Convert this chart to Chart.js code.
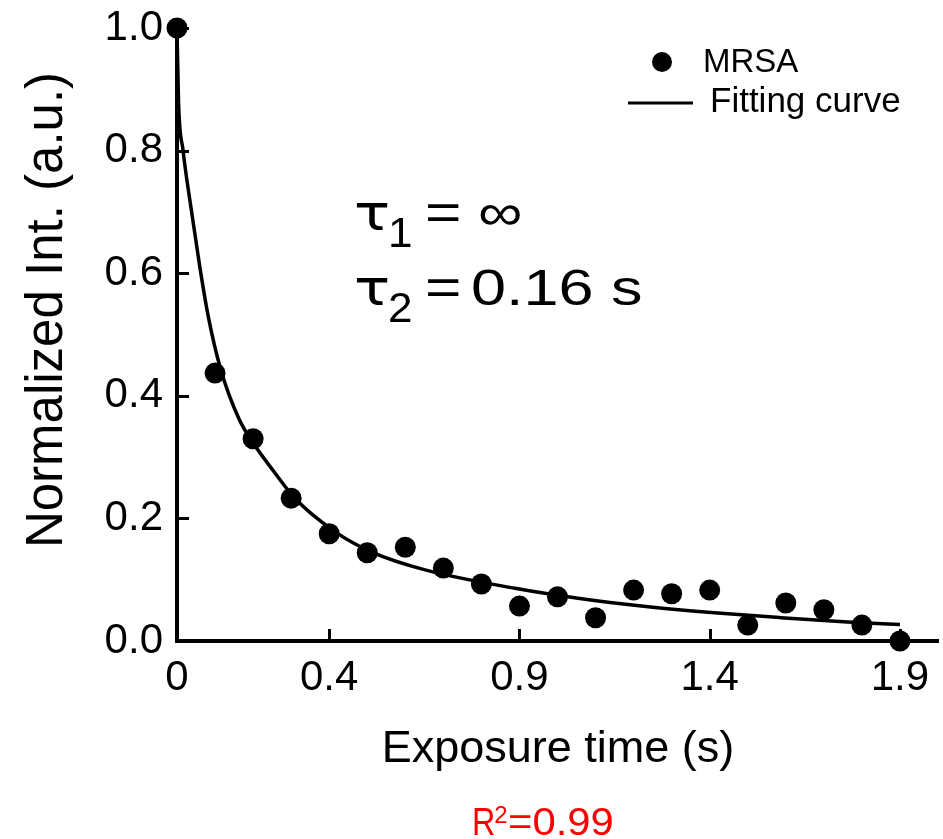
<!DOCTYPE html>
<html>
<head>
<meta charset="utf-8">
<script src="https://cdn.jsdelivr.net/npm/chart.js@4.4.1/dist/chart.umd.min.js"></script>
<style>
  html, body { margin: 0; padding: 0; background: #ffffff; }
  #wrap { width: 943px; height: 839px; }
</style>
</head>
<body>
<div id="wrap"><canvas id="c" width="943" height="839"></canvas></div>
<script>
// ---- data ----
const exposureTimes = [0, 0.1, 0.2, 0.3, 0.4, 0.5, 0.6, 0.7, 0.8, 0.9, 1.0, 1.1, 1.2, 1.3, 1.4, 1.5, 1.6, 1.7, 1.8, 1.9];
const mrsaValues    = [1.0, 0.437, 0.33, 0.233, 0.175, 0.144, 0.153, 0.119, 0.093, 0.057, 0.072, 0.038, 0.083, 0.077, 0.083, 0.026, 0.062, 0.051, 0.026, 0.0];

const fitTimes  = [0, 0.004, 0.016, 0.036, 0.060, 0.082, 0.114, 0.163, 0.198, 0.254, 0.311, 0.416, 0.512, 0.652, 0.888, 1.063, 1.238, 1.412, 1.587, 1.762, 1.9];
const fitValues = [1.0, 0.88, 0.80, 0.71, 0.61, 0.53, 0.445, 0.362, 0.325, 0.277, 0.232, 0.178, 0.145, 0.116, 0.086, 0.069, 0.056, 0.046, 0.038, 0.031, 0.027];

const xTickValues = [0, 0.4, 0.9, 1.4, 1.9];
const yTickValues = [0, 0.2, 0.4, 0.6, 0.8, 1.0];

const seriesLabels = ['MRSA', 'Fitting curve'];
const xTitle = 'Exposure time (s)';
const yTitle = 'Normalized Int. (a.u.)';

const FONT = '"Liberation Sans", Arial, Helvetica, sans-serif';
const TAU_FONT = '"DejaVu Sans", "Liberation Sans", sans-serif';

const mrsaPoints = exposureTimes.map((t, i) => ({ x: t, y: mrsaValues[i] }));
const fitPoints = fitTimes.map((t, i) => ({ x: t, y: fitValues[i] }));

const decorPlugin = {
  id: 'decor',
  beforeDatasetsDraw(chart) {
    const ctx = chart.ctx;
    const xs = chart.scales.x, ys = chart.scales.y;
    const ca = chart.chartArea;
    ctx.save();
    ctx.strokeStyle = '#000';
    ctx.lineWidth = 3;
    ctx.beginPath();
    // inward tick marks
    yTickValues.forEach(v => {
      const py = Math.round(ys.getPixelForValue(v)) + 0.5;
      ctx.moveTo(ca.left, py);
      ctx.lineTo(ca.left + 12, py);
    });
    xTickValues.forEach(v => {
      if (v === 0) return;
      const px = Math.round(xs.getPixelForValue(v)) + 0.5;
      ctx.moveTo(px, ca.bottom);
      ctx.lineTo(px, ca.bottom - 12);
    });
    ctx.stroke();
    ctx.restore();
  },
  afterDraw(chart) {
    const ctx = chart.ctx;
    ctx.save();
    ctx.fillStyle = '#000';
    ctx.textAlign = 'left';
    ctx.textBaseline = 'alphabetic';

    // Y title (rotated)
    ctx.save();
    ctx.translate(62, 310);
    ctx.rotate(-Math.PI / 2);
    ctx.font = '51px ' + FONT;
    ctx.textAlign = 'center';
    ctx.fillText(yTitle, 0, 0);
    ctx.restore();

    // X title
    ctx.font = '45px ' + FONT;
    ctx.textAlign = 'center';
    ctx.fillText(xTitle, 558, 762);

    const drawStretch = (txt, x, y, size, sx, family) => {
      ctx.save();
      ctx.translate(x, y);
      ctx.scale(sx, 1);
      ctx.font = size + 'px ' + (family || FONT);
      ctx.fillText(txt, 0, 0);
      const w = ctx.measureText(txt).width * sx;
      ctx.restore();
      return w;
    };

    // R^2 (red)
    ctx.textAlign = 'left';
    ctx.fillStyle = '#ff0000';
    let rx = 472;
    rx += drawStretch('R', rx, 835, 38, 0.85);
    drawStretch('2', rx - 1, 823, 24, 1.0);
    drawStretch('=0.99', 508, 835, 38, 1.1);

    // Annotation tau
    ctx.fillStyle = '#000';
    drawStretch('\u03C4', 354, 230, 50, 1.2, TAU_FONT);
    drawStretch('1', 388, 247, 42, 1.05);
    drawStretch('=', 425, 230, 52, 1.2);
    drawStretch('\u221E', 478, 230, 52, 1.2);
    drawStretch('\u03C4', 354, 305, 50, 1.2, TAU_FONT);
    drawStretch('2', 388, 322, 42, 1.05);
    drawStretch('=', 425, 305, 52, 1.2);
    drawStretch('0.16 s', 471, 305, 50, 1.26);

    // Legend
    const ds = chart.data.datasets;
    ctx.fillStyle = '#000';
    ctx.beginPath();
    ctx.arc(662, 62, 10, 0, Math.PI * 2);
    ctx.fill();
    ctx.font = '33px ' + FONT;
    ctx.fillText(ds[0].label, 703, 72);
    ctx.strokeStyle = '#000';
    ctx.lineWidth = 3;
    ctx.beginPath();
    ctx.moveTo(628, 103);
    ctx.lineTo(693, 103);
    ctx.stroke();
    ctx.font = '35px ' + FONT;
    ctx.fillText(ds[1].label, 710, 112);

    ctx.restore();
  }
};

new Chart(document.getElementById('c'), {
  type: 'scatter',
  data: {
    datasets: [
      {
        label: seriesLabels[0],
        data: mrsaPoints,
        pointRadius: 10.5,
        pointHoverRadius: 10.5,
        backgroundColor: '#000',
        borderColor: '#000',
        borderWidth: 0,
        clip: false,
        order: 0
      },
      {
        label: seriesLabels[1],
        data: fitPoints,
        showLine: true,
        pointRadius: 0,
        borderColor: '#000',
        borderWidth: 3.5,
        cubicInterpolationMode: 'monotone',
        clip: false,
        order: 1
      }
    ]
  },
  options: {
    responsive: false,
    animation: false,
    devicePixelRatio: 1,
    layout: { autoPadding: false, padding: { left: 0, top: 28, right: 5, bottom: 0 } },
    plugins: {
      legend: { display: false },
      tooltip: { enabled: false }
    },
    scales: {
      x: {
        type: 'linear',
        min: 0,
        max: 2.0,
        afterBuildTicks: (s) => { s.ticks = xTickValues.map(v => ({ value: v })); },
        afterFit: (s) => { s.height = 198; s.paddingLeft = 0; s.paddingRight = 0; },
        grid: { display: false, drawTicks: false },
        border: { display: true, color: '#000', width: 4 },
        ticks: {
          color: '#000',
          font: { family: FONT, size: 42 },
          padding: 12,
          maxRotation: 0,
          autoSkip: false,
          callback: (v) => (v === 0 ? '0' : Number(v).toFixed(1))
        }
      },
      y: {
        type: 'linear',
        min: 0,
        max: 1.0,
        afterBuildTicks: (s) => { s.ticks = yTickValues.map(v => ({ value: v })); },
        afterFit: (s) => { s.width = 177; s.paddingTop = 0; s.paddingBottom = 0; },
        grid: { display: false, drawTicks: false },
        border: { display: true, color: '#000', width: 4 },
        ticks: {
          color: '#000',
          font: { family: FONT, size: 42 },
          padding: 14,
          autoSkip: false,
          callback: (v) => Number(v).toFixed(1)
        }
      }
    }
  },
  plugins: [decorPlugin]
});
</script>
</body>
</html>
